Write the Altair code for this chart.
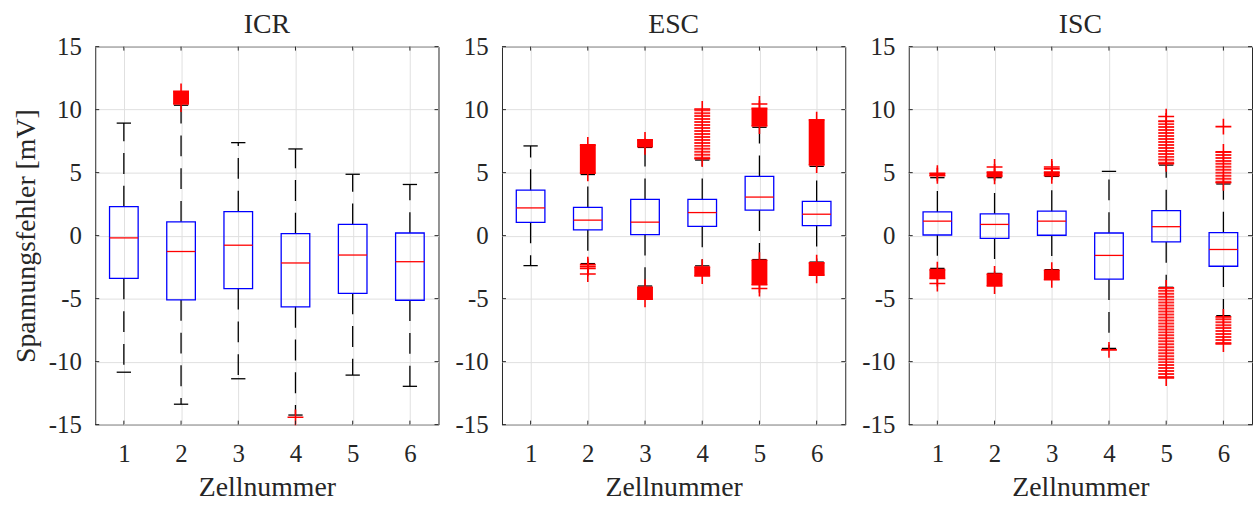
import altair as alt
import pandas as pd

# ---------------------------------------------------------------------------
# Voltage error statistics per cell (mV) for three estimation methods
# ---------------------------------------------------------------------------
panels = ["ICR", "ESC", "ISC"]
cells = [1, 2, 3, 4, 5, 6]

q1 = {
    "ICR": [-3.40, -5.10, -4.21, -5.65, -4.58, -5.13],
    "ESC": [1.05, 0.45, 0.08, 0.73, 2.02, 0.79],
    "ISC": [0.05, -0.21, 0.03, -3.46, -0.50, -2.43],
}
median = {
    "ICR": [-0.18, -1.26, -0.76, -2.17, -1.54, -2.07],
    "ESC": [2.20, 1.23, 1.07, 1.83, 3.06, 1.70],
    "ISC": [1.15, 0.89, 1.15, -1.57, 0.71, -1.10],
}
q3 = {
    "ICR": [2.30, 1.10, 1.91, 0.16, 0.89, 0.21],
    "ESC": [3.61, 2.25, 2.88, 2.88, 4.71, 2.72],
    "ISC": [1.88, 1.73, 1.94, 0.21, 1.99, 0.24],
}
whisker_lo = {
    "ICR": [-10.84, -13.38, -11.36, -14.24, -11.07, -11.96],
    "ESC": [-2.38, -2.22, -4.00, -2.40, -1.90, -2.10],
    "ISC": [-2.60, -3.00, -2.70, -8.95, -4.10, -6.35],
}
whisker_hi = {
    "ICR": [8.93, 10.35, 7.38, 6.88, 4.87, 4.06],
    "ESC": [7.12, 4.85, 7.00, 6.00, 8.60, 5.50],
    "ISC": [4.60, 4.60, 4.70, 5.10, 5.60, 4.10],
}

# Dense runs of outliers: panel, cell, lowest and highest value, loose-run flag
run_panel = ["ICR", "ESC", "ESC", "ESC", "ESC", "ESC", "ESC", "ESC", "ESC", "ESC",
             "ISC", "ISC", "ISC", "ISC", "ISC", "ISC", "ISC", "ISC", "ISC", "ISC"]
run_cell = [2, 2, 3, 3, 4, 4, 5, 5, 6, 6,
            1, 1, 2, 2, 3, 3, 5, 5, 6, 6]
run_lo = [10.45, 4.95, 7.05, -5.05, 6.10, -3.20, 8.70, -3.90, 5.60, -3.15,
          4.75, -3.40, 4.70, -4.00, 4.75, -3.50, 5.70, -11.30, 4.20, -8.60]
run_hi = [11.45, 7.20, 7.60, -4.10, 10.05, -2.50, 10.10, -1.95, 9.20, -2.15,
          4.95, -2.70, 5.05, -3.05, 5.05, -2.75, 9.10, -4.15, 6.65, -6.45]
run_loose = [False, False, False, False, True, False, False, False, False, False,
             False, False, False, False, False, False, True, True, True, True]

# Isolated outliers
single_panel = ["ICR", "ESC", "ESC", "ESC", "ESC", "ESC", "ESC",
                "ISC", "ISC", "ISC", "ISC", "ISC", "ISC", "ISC"]
single_cell = [4, 2, 2, 2, 2, 5, 5,
               1, 2, 3, 3, 4, 5, 6]
single_value = [-14.42, -2.30, -2.45, -2.60, -3.05, 10.45, -4.20,
                -3.80, 5.45, 5.30, 5.45, -9.07, 9.45, 8.65]

y_ticks = [-15, -10, -5, 0, 5, 10, 15]

W, H = 346, 381
FONT = "Liberation Serif"
INK = "#262626"
BLUE = "#0000ff"
RED = "#ff0000"
PLUS = "M-1,0L1,0M0,-1L0,1"


def x_enc(field, first):
    return alt.X(
        field,
        type="quantitative",
        scale=alt.Scale(domain=[0.5, 6.5], nice=False, zero=False),
        axis=alt.Axis(
            values=cells, title="Zellnummer", grid=True, ticks=False, domain=False,
            labelPadding=17, titlePadding=7, labelExpr="'' + datum.value",
        ),
    )


def y_enc(field, first):
    return alt.Y(
        field,
        type="quantitative",
        scale=alt.Scale(domain=[-15, 15], nice=False, zero=False),
        axis=alt.Axis(
            values=y_ticks, title="Spannungsfehler [mV]" if first else None,
            grid=True, ticks=False, domain=False,
            labelPadding=14, titlePadding=8, labelExpr="'' + datum.value",
        ),
    )


def make_panel(name, first):
    boxes = pd.DataFrame({
        "cell": cells, "q1": q1[name], "med": median[name], "q3": q3[name],
        "wlo": whisker_lo[name], "whi": whisker_hi[name],
    })
    base = alt.Chart(boxes).transform_calculate(
        xl="datum.cell - 0.25", xr="datum.cell + 0.25",
        cl="datum.cell - 0.125", cr="datum.cell + 0.125",
    )

    whisk_up = base.mark_rule(color="black", strokeWidth=1.3, strokeDash=[21, 12]).encode(
        x=x_enc("cell", first), y=y_enc("q3", first), y2="whi:Q")
    whisk_dn = base.mark_rule(color="black", strokeWidth=1.3, strokeDash=[21, 12]).encode(
        x=x_enc("cell", first), y=y_enc("q1", first), y2="wlo:Q")
    cap_up = base.mark_rule(color="black", strokeWidth=1.3).encode(
        x=x_enc("cl", first), x2="cr:Q", y=y_enc("whi", first))
    cap_dn = base.mark_rule(color="black", strokeWidth=1.3).encode(
        x=x_enc("cl", first), x2="cr:Q", y=y_enc("wlo", first))
    box = base.mark_rect(fill="transparent", stroke=BLUE, strokeWidth=1.3).encode(
        x=x_enc("xl", first), x2="xr:Q", y=y_enc("q1", first), y2="q3:Q")
    med = base.mark_rule(color=RED, strokeWidth=1.3).encode(
        x=x_enc("xl", first), x2="xr:Q", y=y_enc("med", first))

    layers = [whisk_up, whisk_dn, cap_up, cap_dn, box, med]

    runs = pd.DataFrame({"panel": run_panel, "cell": run_cell, "lo": run_lo,
                         "hi": run_hi, "loose": run_loose})
    runs = runs[runs["panel"] == name]
    if len(runs):
        dense = runs[~runs["loose"]]
        loose = runs[runs["loose"]]
        if len(dense):
            layers.append(alt.Chart(dense).mark_rule(color=RED, strokeWidth=16, strokeCap="butt").encode(
                x=x_enc("cell", first), y=y_enc("lo", first), y2="hi:Q"))
        if len(loose):
            layers.append(alt.Chart(loose).mark_rule(color=RED, strokeWidth=16, strokeCap="butt",
                                                     strokeDash=[2, 1], opacity=0.85).encode(
                x=x_enc("cell", first), y=y_enc("lo", first), y2="hi:Q"))
        layers.append(alt.Chart(runs).mark_rule(color=RED, strokeWidth=1.6).encode(
            x=x_enc("cell", first), y=y_enc("lo", first), y2="hi:Q"))
        ends = pd.concat([
            pd.DataFrame({"cell": runs["cell"], "v": runs["lo"]}),
            pd.DataFrame({"cell": runs["cell"], "v": runs["hi"]}),
        ])
    else:
        ends = pd.DataFrame({"cell": [], "v": []})

    singles = pd.DataFrame({"panel": single_panel, "cell": single_cell, "v": single_value})
    singles = singles[singles["panel"] == name][["cell", "v"]]
    plus = pd.concat([ends, singles])
    if len(plus):
        layers.append(alt.Chart(plus).mark_point(shape=PLUS, size=256, filled=False,
                                                 stroke=RED, strokeWidth=1.6, opacity=1).encode(
            x=x_enc("cell", first), y=y_enc("v", first)))

    # inward tick marks on all four sides of the frame
    yt = pd.DataFrame({"v": y_ticks})
    xt = pd.DataFrame({"c": cells})
    tick_style = dict(color=INK, strokeWidth=1)
    layers += [
        alt.Chart(yt).mark_rule(**tick_style).encode(
            x=alt.value(0), x2=alt.value(4), y=y_enc("v", first)),
        alt.Chart(yt).mark_rule(**tick_style).encode(
            x=alt.value(W), x2=alt.value(W - 4), y=y_enc("v", first)),
        alt.Chart(xt).mark_rule(**tick_style).encode(
            x=x_enc("c", first), y=alt.value(H), y2=alt.value(H - 4)),
        alt.Chart(xt).mark_rule(**tick_style).encode(
            x=x_enc("c", first), y=alt.value(0), y2=alt.value(4)),
    ]

    return alt.layer(*layers).properties(
        width=W, height=H,
        title=alt.TitleParams(name, fontSize=28, font=FONT, fontWeight="normal",
                              color=INK, baseline="alphabetic", offset=-26),
    )


chart = alt.hconcat(
    *[make_panel(p, i == 0) for i, p in enumerate(panels)], spacing=15
).properties(
    padding={"left": 12, "top": 8, "right": 0, "bottom": 0},
    background="white",
).configure_view(
    stroke=INK, strokeWidth=1,
).configure_axis(
    labelFont=FONT, labelFontSize=25, labelColor=INK,
    titleFont=FONT, titleFontSize=28, titleColor=INK, titleFontWeight="normal",
    gridColor="#e0e0e0", gridWidth=1,
)

chart.save("out.html", embed_options={"renderer": "svg", "actions": False})
